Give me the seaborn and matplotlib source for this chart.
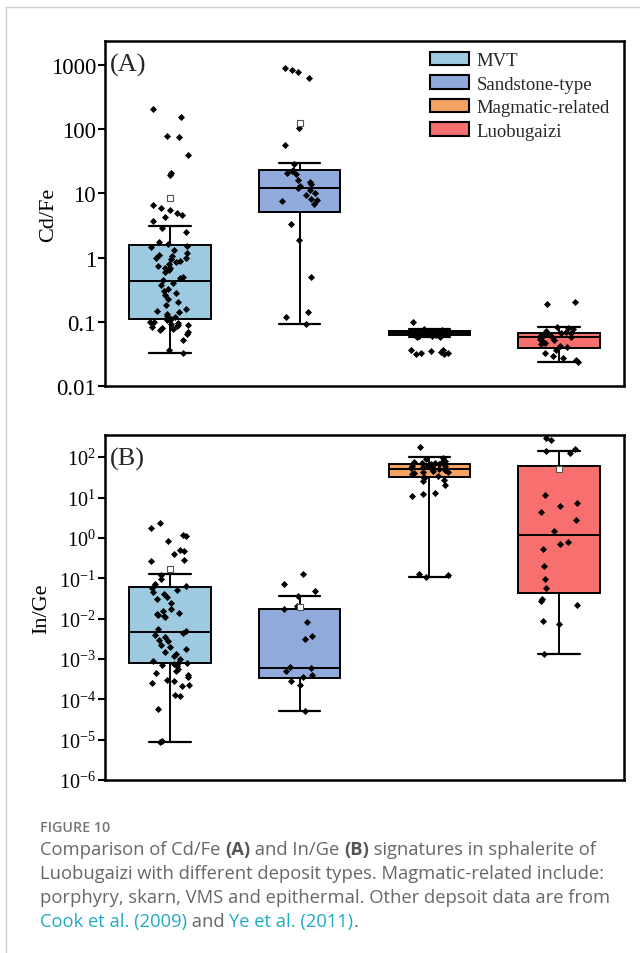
import numpy as np
import pandas as pd
import seaborn as sns
import matplotlib.pyplot as plt
import matplotlib.patches as mpatches
from matplotlib.lines import Line2D
from matplotlib.ticker import FixedLocator, FuncFormatter, NullLocator
from matplotlib.transforms import IdentityTransform

types = ["MVT", "Sandstone-type", "Magmatic-related", "Luobugaizi"]
colors = ["#9ecae1", "#91aadc", "#f4a362", "#f86f6f"]

# Cd/Fe (A) - individual analyses
mvt_cdfe = [208, 155, 79, 77, 39, 20.5, 19.4, 6.5, 5.9, 5.5, 5.0, 4.6, 4.3, 3.7, 2.9, 2.5,
            1.75, 1.65, 1.5, 1.45, 1.3, 1.2, 1.1, 1.05, 1.0, 0.98, 0.95, 0.9, 0.85, 0.8,
            0.75, 0.7, 0.68, 0.65, 0.6, 0.5, 0.48, 0.45, 0.4, 0.38, 0.33, 0.3, 0.28, 0.26,
            0.23, 0.2, 0.18, 0.16, 0.15, 0.14, 0.13, 0.125, 0.12, 0.11, 0.105, 0.1, 0.098,
            0.095, 0.093, 0.09, 0.088, 0.085, 0.082, 0.08, 0.078, 0.075, 0.07, 0.065, 0.052,
            0.036, 0.033]
sand_cdfe = [910, 830, 780, 630, 103, 56, 29, 23, 22, 21, 20, 16, 15, 14, 13, 12, 11.5, 10,
             9.5, 8.2, 7.8, 7.5, 6.8, 3.3, 1.85, 0.5, 0.14, 0.12, 0.092]
mag_cdfe = [0.098, 0.076, 0.074, 0.073, 0.072, 0.071, 0.07, 0.07, 0.069, 0.068, 0.068, 0.067,
            0.066, 0.066, 0.065, 0.065, 0.064, 0.063, 0.063, 0.062, 0.061, 0.06, 0.059, 0.058,
            0.037, 0.036, 0.035, 0.034, 0.033, 0.033, 0.032, 0.032]
luo_cdfe = [0.2, 0.19, 0.084, 0.08, 0.076, 0.073, 0.07, 0.068, 0.066, 0.064, 0.062, 0.06,
            0.058, 0.056, 0.054, 0.052, 0.05, 0.047, 0.045, 0.042, 0.04, 0.037, 0.033, 0.029,
            0.027, 0.025, 0.024]

# Cd/Fe box statistics
cdfe_q1 = [0.112, 5.1, 0.0615, 0.039]
cdfe_med = [0.44, 12, 0.066, 0.059]
cdfe_q3 = [1.55, 23.5, 0.071, 0.067]
cdfe_lo = [0.033, 0.093, 0.059, 0.024]
cdfe_hi = [3.1, 29.4, 0.077, 0.084]
cdfe_mean = [8.6, 124, np.nan, np.nan]

# In/Ge (B) - individual analyses
mvt_inge = [2.35, 1.8, 1.2, 1.14, 0.83, 0.51, 0.47, 0.39, 0.29, 0.26, 0.12, 0.093, 0.07,
            0.063, 0.057, 0.05, 0.045, 0.04, 0.035, 0.03, 0.025, 0.017, 0.015, 0.014, 0.013,
            0.012, 0.0115, 0.011, 0.0054, 0.005, 0.0045, 0.004, 0.0035, 0.003, 0.0028,
            0.0022, 0.002, 0.0018, 0.0015, 0.0013, 0.0012, 0.001, 0.0009, 0.00085, 0.0008,
            0.00075, 0.0007, 0.00068, 0.00055, 0.0005, 0.00045, 0.0004, 0.00035, 0.0003,
            0.00028, 0.00025, 0.00022, 0.00021, 0.00013, 0.00012, 5.6e-5, 9.3e-6, 8.5e-6]
sand_inge = [0.128, 0.072, 0.049, 0.036, 0.021, 0.0175, 0.0081, 0.0037, 0.0032, 6.3e-4,
             5.9e-4, 4.9e-4, 4.1e-4, 3.5e-4, 2.8e-4, 2.2e-4, 5.2e-5]
mag_inge = [180, 95, 88, 82, 78, 75, 72, 70, 68, 66, 64, 62, 60, 58, 56, 54, 52, 50, 48, 46,
            44, 42, 40, 38, 35, 32, 30, 27, 25, 21, 13, 12, 11, 0.13, 0.12, 0.11]
luo_inge = [300, 260, 160, 140, 125, 11.5, 7.5, 6.0, 4.3, 2.8, 1.5, 0.8, 0.7, 0.52, 0.2,
            0.095, 0.057, 0.03, 0.028, 0.022, 0.0085, 0.0075, 0.00135]

# In/Ge box statistics
inge_q1 = [8.1e-4, 3.4e-4, 32, 0.042]
inge_med = [0.0046, 5.8e-4, 52, 1.2]
inge_q3 = [0.06, 0.0173, 67, 60]
inge_lo = [8.5e-6, 5.2e-5, 0.11, 1.35e-3]
inge_hi = [0.125, 0.036, 100, 140]
inge_mean = [0.165, 0.019, np.nan, 50]

cdfe_ticks = [0.01, 0.1, 1, 10, 100, 1000]
inge_ticks = [1e-6, 1e-5, 1e-4, 1e-3, 1e-2, 1e-1, 1, 10, 100]

np.random.seed(7)  # fixed strip jitter
sns.set_theme(style="ticks")
serif = ["Liberation Serif", "DejaVu Serif"]
plt.rcParams["font.family"] = serif
plt.rcParams["mathtext.fontset"] = "custom"
plt.rcParams["mathtext.rm"] = "Liberation Serif"
plt.rcParams["mathtext.it"] = "Liberation Serif:italic"
plt.rcParams["mathtext.default"] = "regular"

W, H = 640, 954
fig = plt.figure(figsize=(W / 100, H / 100), dpi=100)
fig.patch.set_facecolor("white")


def px_axes(left, top, right, bottom):
    return fig.add_axes([left / W, 1 - bottom / H, (right - left) / W, (bottom - top) / H])


def make_stats(q1, med, q3, lo, hi):
    return [dict(q1=a, med=b, q3=c, whislo=d, whishi=e, fliers=[])
            for a, b, c, d, e in zip(q1, med, q3, lo, hi)]


def draw_panel(ax, groups, stats, means, ylim, ticks, fmt, ylabel, tag, label_x, tick_fs):
    parts = ax.bxp(stats, positions=range(4), widths=0.63, capwidths=0.32,
                   patch_artist=True, showfliers=False, manage_ticks=False,
                   boxprops=dict(edgecolor="black", linewidth=1.4),
                   whiskerprops=dict(color="black", linewidth=1.4),
                   capprops=dict(color="black", linewidth=1.6),
                   medianprops=dict(color="black", linewidth=1.4), zorder=2)
    for box, c in zip(parts["boxes"], colors):
        box.set_facecolor(c)
    df = pd.DataFrame({
        "type": np.concatenate([[t] * len(g) for t, g in zip(types, groups)]),
        "value": np.concatenate([np.asarray(g, float) for g in groups]),
    })
    sns.stripplot(data=df, x="type", y="value", order=types, color="black", marker="D",
                  size=3.6, jitter=0.15, linewidth=0, ax=ax, zorder=3)
    ax.scatter(range(4), means, marker="s", s=15, facecolor="white",
               edgecolor="#555555", linewidth=0.8, zorder=4)
    ax.set_yscale("log")
    ax.set_ylim(*ylim)
    ax.set_xlim(-0.5, 3.5)
    ax.set_xticks([])
    ax.set_xlabel("")
    ax.yaxis.set_major_locator(FixedLocator(ticks))
    ax.yaxis.set_major_formatter(FuncFormatter(fmt))
    ax.yaxis.set_minor_locator(NullLocator())
    ax.tick_params(axis="y", direction="out", length=5, width=1.5, pad=1.5,
                   labelsize=tick_fs, colors="black", labelfontfamily="Liberation Serif")
    for sp in ax.spines.values():
        sp.set_visible(True)
        sp.set_linewidth(1.8)
        sp.set_color("black")
    ax.set_ylabel(ylabel, fontsize=16, color="black", family=serif)
    ax.yaxis.set_label_coords(label_x, 0.5)
    ax.text(0.01, 0.932, tag, transform=ax.transAxes, fontsize=19, ha="left", va="center",
            family=serif)


ax_a = px_axes(105, 42, 624, 387)
draw_panel(ax_a, [mvt_cdfe, sand_cdfe, mag_cdfe, luo_cdfe],
           make_stats(cdfe_q1, cdfe_med, cdfe_q3, cdfe_lo, cdfe_hi), cdfe_mean,
           (0.01, 2370), cdfe_ticks, lambda v, p: f"{v:g}", "Cd/Fe", "(A)", -0.09, 16.5)

ax_b = px_axes(105, 436, 624, 781)
draw_panel(ax_b, [mvt_inge, sand_inge, mag_inge, luo_inge],
           make_stats(inge_q1, inge_med, inge_q3, inge_lo, inge_hi), inge_mean,
           (1e-6, 354), inge_ticks, lambda v, p: r"$10^{%d}$" % round(np.log10(v)),
           "In/Ge", "(B)", -0.103, 14.5)

handles = [mpatches.Patch(facecolor=c, edgecolor="black", linewidth=1.5, label=t)
           for t, c in zip(types, colors)]
ax_a.legend(handles=handles, loc="upper left", bbox_to_anchor=((430 - 105) / 519, 1 - 11 / 345),
            frameon=False, handlelength=2.1, handleheight=0.72,
            handletextpad=0.4, labelspacing=0.33, borderpad=0, borderaxespad=0,
            prop=dict(family=serif, size=13.5))

# page frame
fig.add_artist(Line2D([6 / W, 6 / W], [0, 1 - 8 / H], transform=fig.transFigure,
                      color="#cfcfcf", linewidth=1))
fig.add_artist(Line2D([6 / W, 1], [1 - 8 / H, 1 - 8 / H], transform=fig.transFigure,
                      color="#cfcfcf", linewidth=1))

# caption
cap_font = ["Open Sans", "DejaVu Sans"]
gray = "#676767"
link = "#20a9c6"
renderer = fig.canvas.get_renderer()


def put_runs(runs, x, y_top):
    y = H - y_top
    for s, kw in runs:
        t = fig.text(x, y, s, transform=IdentityTransform(), family=cap_font,
                     fontsize=13.2, va="baseline", ha="left", **kw)
        x += t.get_window_extent(renderer).width


fig.text(40, H - 832, "FIGURE 10", transform=IdentityTransform(), family=cap_font,
         fontsize=10.3, fontweight="semibold", color="#767676", va="baseline")
put_runs([("Comparison of Cd/Fe ", dict(color=gray)), ("(A)", dict(color="#555555", fontweight="bold")),
          (" and In/Ge ", dict(color=gray)), ("(B)", dict(color="#555555", fontweight="bold")),
          (" signatures in sphalerite of", dict(color=gray))], 40, 855)
put_runs([("Luobugaizi with different deposit types. Magmatic-related include:",
           dict(color=gray))], 40, 879)
put_runs([("porphyry, skarn, VMS and epithermal. Other depsoit data are from",
           dict(color=gray))], 40, 903)
put_runs([("Cook et al. (2009)", dict(color=link)), (" and ", dict(color=gray)),
          ("Ye et al. (2011)", dict(color=link)), (".", dict(color=gray))], 40, 927)

fig.savefig("out.png", dpi=100, facecolor="white")
